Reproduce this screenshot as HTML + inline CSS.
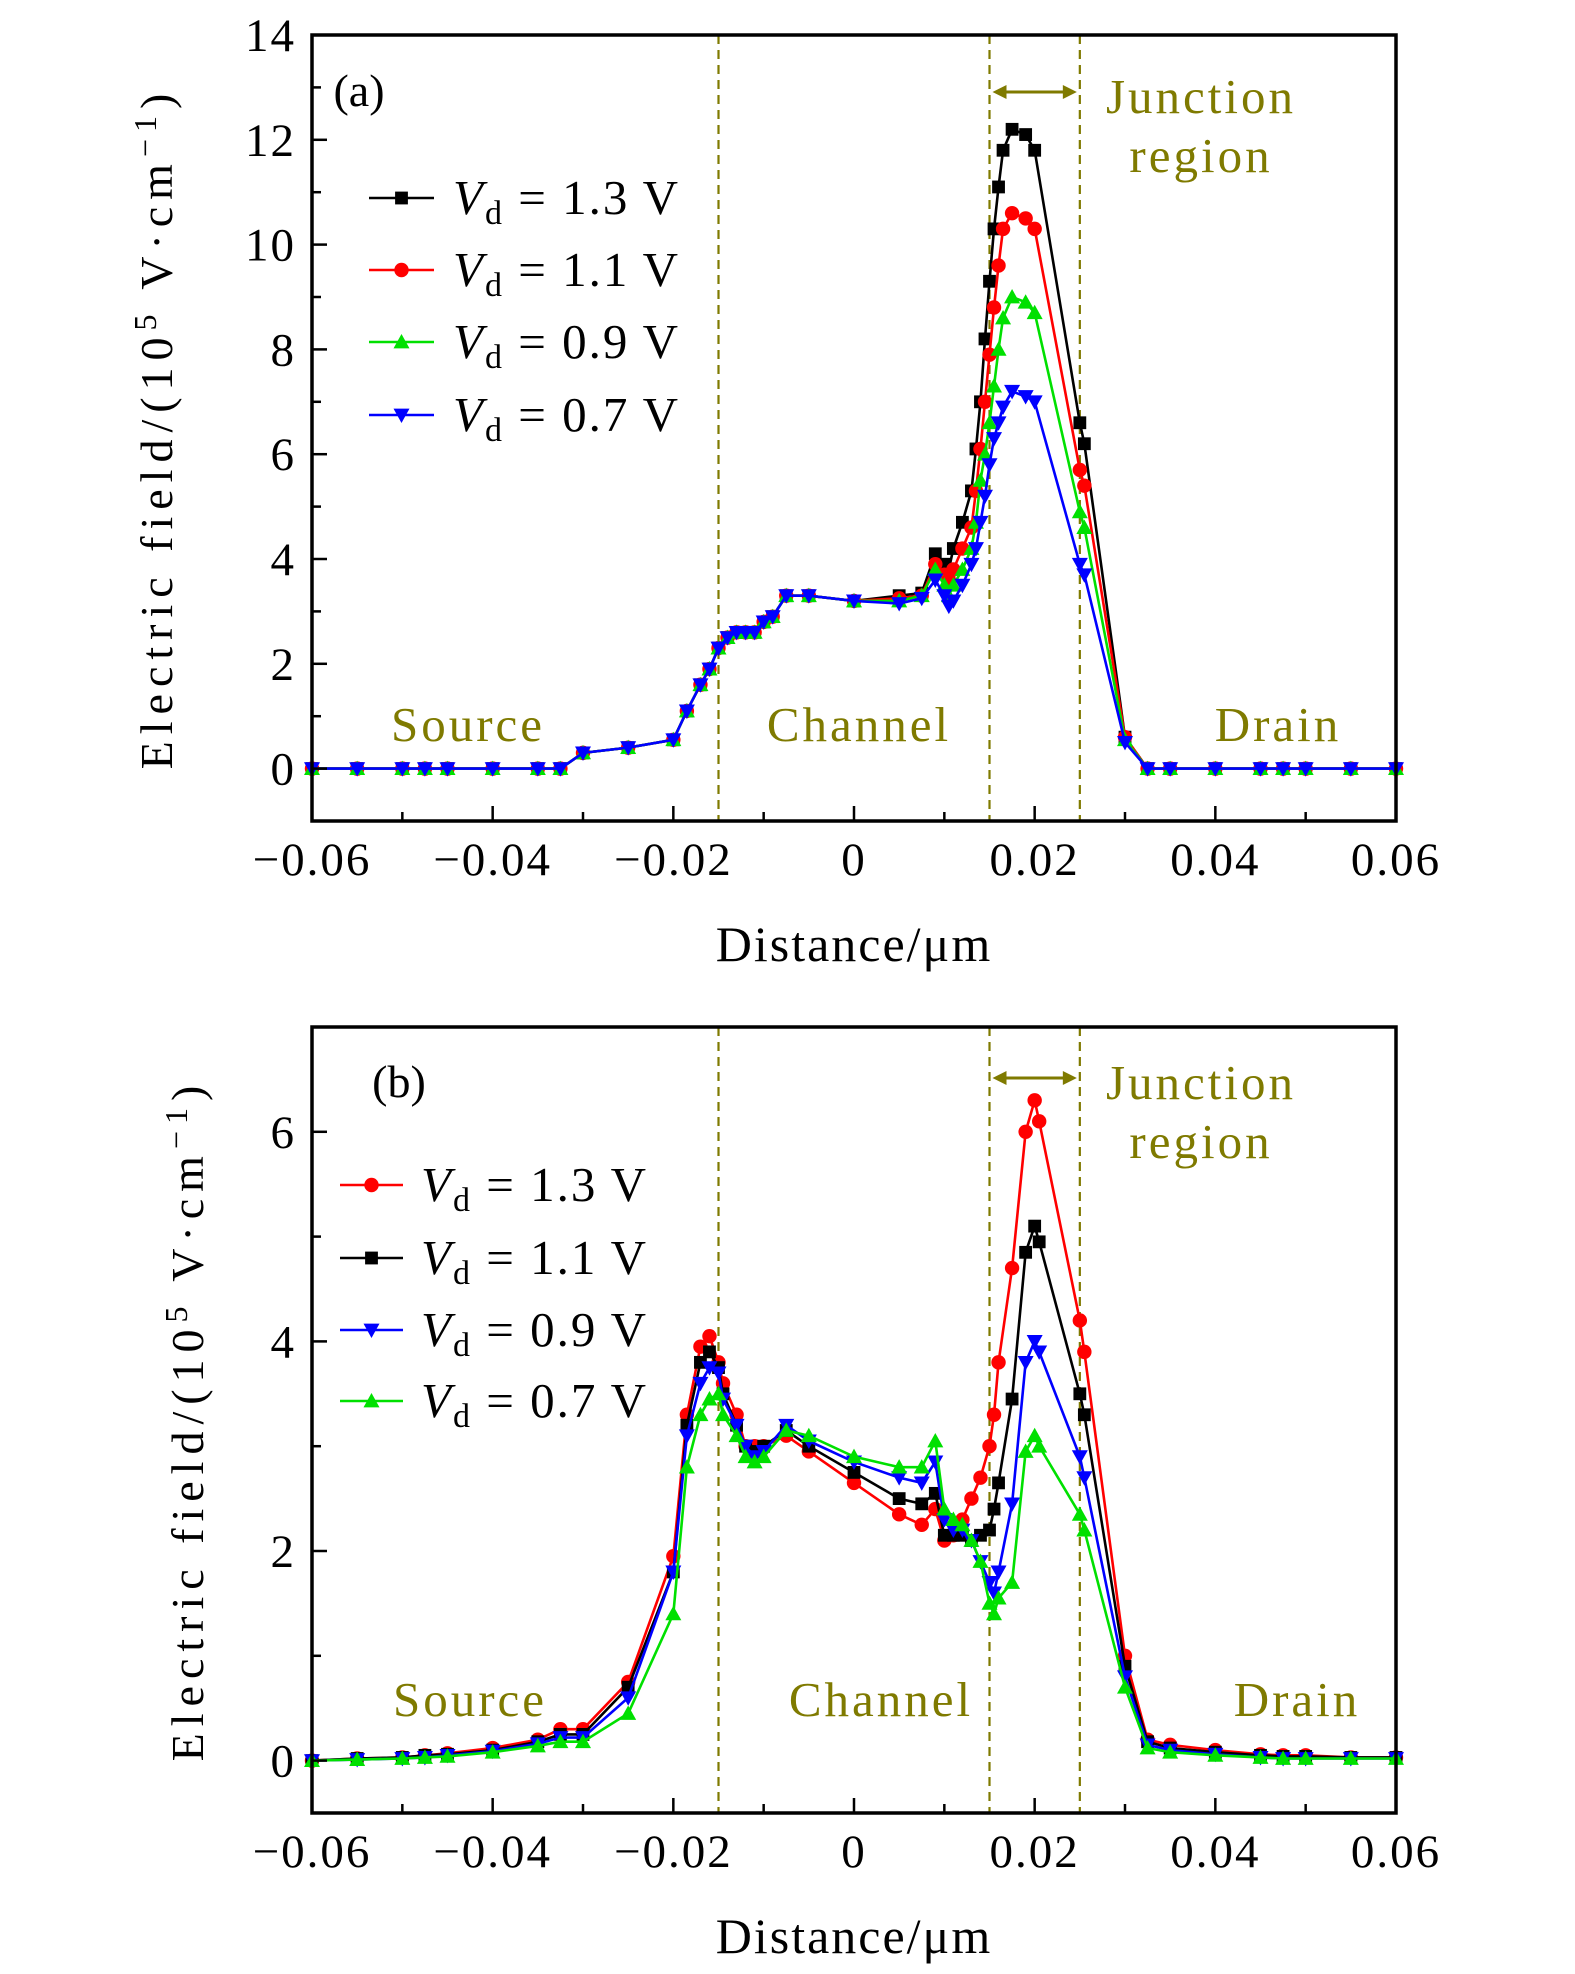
<!DOCTYPE html>
<html><head><meta charset="utf-8"><style>
html,body{margin:0;padding:0;background:#fff;}
svg text{font-family:"Liberation Serif",serif;}
</style></head><body>
<svg id="fig" width="1575" height="1969" viewBox="0 0 1575 1969" xmlns="http://www.w3.org/2000/svg"></svg>
<script>
// ---------- Panel (a) data ----------
const xA = [-0.06,-0.055,-0.05,-0.0475,-0.045,-0.04,-0.035,-0.0325,-0.03,-0.025,-0.02,-0.0185,-0.017,-0.016,-0.015,-0.014,-0.013,-0.012,-0.011,-0.01,-0.009,-0.0075,-0.005,0,0.005,0.0075,0.009,0.01,0.0105,0.011,0.012,0.013,0.0135,0.014,0.0145,0.015,0.0155,0.016,0.0165,0.0175,0.019,0.02,0.025,0.0255,0.03,0.0325,0.035,0.04,0.045,0.0475,0.05,0.055,0.06];
const aV13 = [0,0,0,0,0,0,0,0,0.3,0.4,0.55,1.1,1.6,1.9,2.3,2.5,2.6,2.6,2.6,2.8,2.9,3.3,3.3,3.2,3.3,3.35,4.1,3.9,3.8,4.2,4.7,5.3,6.1,7.0,8.2,9.3,10.3,11.1,11.8,12.2,12.1,11.8,6.6,6.2,0.6,0,0,0,0,0,0,0,0];
const aV11 = [0,0,0,0,0,0,0,0,0.3,0.4,0.55,1.1,1.6,1.9,2.3,2.5,2.6,2.6,2.6,2.8,2.9,3.3,3.3,3.2,3.25,3.3,3.9,3.7,3.6,3.8,4.2,4.6,5.3,6.1,7.0,7.9,8.8,9.6,10.3,10.6,10.5,10.3,5.7,5.4,0.6,0,0,0,0,0,0,0,0];
const aV09 = [0,0,0,0,0,0,0,0,0.3,0.4,0.55,1.1,1.6,1.9,2.3,2.5,2.6,2.6,2.6,2.8,2.9,3.3,3.3,3.2,3.2,3.3,3.8,3.5,3.3,3.5,3.8,4.2,4.7,5.5,6.0,6.6,7.3,8.0,8.6,9.0,8.9,8.7,4.9,4.6,0.55,0,0,0,0,0,0,0,0];
const aV07 = [0,0,0,0,0,0,0,0,0.3,0.4,0.55,1.1,1.6,1.9,2.3,2.5,2.6,2.6,2.6,2.8,2.9,3.3,3.3,3.2,3.15,3.25,3.6,3.3,3.1,3.2,3.5,3.9,4.2,4.7,5.2,5.8,6.3,6.6,6.9,7.2,7.1,7.0,3.9,3.7,0.5,0,0,0,0,0,0,0,0];
const aYTicks = [0,2,4,6,8,10,12,14];
const aLabels = ["1.3","1.1","0.9","0.7"];

// ---------- Panel (b) data ----------
const xB = [-0.06,-0.055,-0.05,-0.0475,-0.045,-0.04,-0.035,-0.0325,-0.03,-0.025,-0.02,-0.0185,-0.017,-0.016,-0.015,-0.0145,-0.013,-0.012,-0.011,-0.01,-0.0075,-0.005,0,0.005,0.0075,0.009,0.01,0.011,0.012,0.013,0.014,0.015,0.0155,0.016,0.0175,0.019,0.02,0.0205,0.025,0.0255,0.03,0.0325,0.035,0.04,0.045,0.0475,0.05,0.055,0.06];
const bV13 = [0,0.02,0.03,0.05,0.07,0.12,0.2,0.3,0.3,0.75,1.95,3.3,3.95,4.05,3.8,3.6,3.3,3.0,3.0,3.0,3.1,2.95,2.65,2.35,2.25,2.4,2.1,2.15,2.3,2.5,2.7,3.0,3.3,3.8,4.7,6.0,6.3,6.1,4.2,3.9,1.0,0.2,0.15,0.1,0.06,0.05,0.05,0.03,0.03];
const bV11 = [0,0.02,0.03,0.05,0.06,0.1,0.18,0.25,0.25,0.7,1.8,3.2,3.8,3.9,3.75,3.5,3.2,3.0,2.95,3.0,3.15,3.0,2.75,2.5,2.45,2.55,2.15,2.15,2.15,2.1,2.15,2.2,2.4,2.65,3.45,4.85,5.1,4.95,3.5,3.3,0.9,0.18,0.12,0.08,0.05,0.04,0.04,0.03,0.03];
const bV09 = [0,0.01,0.02,0.03,0.05,0.09,0.16,0.22,0.22,0.6,1.8,3.1,3.6,3.75,3.7,3.45,3.2,3.0,2.9,2.95,3.2,3.05,2.85,2.7,2.65,2.85,2.3,2.2,2.2,2.1,1.9,1.7,1.6,1.8,2.45,3.8,4.0,3.9,2.9,2.7,0.8,0.15,0.1,0.06,0.03,0.02,0.02,0.02,0.02];
const bV07 = [0,0.01,0.02,0.03,0.04,0.08,0.14,0.18,0.18,0.45,1.4,2.8,3.3,3.45,3.5,3.3,3.1,2.9,2.85,2.9,3.15,3.1,2.9,2.8,2.8,3.05,2.4,2.3,2.25,2.1,1.9,1.5,1.4,1.55,1.7,2.95,3.1,3.0,2.35,2.2,0.7,0.12,0.08,0.05,0.03,0.02,0.02,0.02,0.02];
const bYTicks = [0,2,4,6];
const bLabels = ["1.3","1.1","0.9","0.7"];

const xTicks = [-0.06,-0.04,-0.02,0,0.02,0.04,0.06];
const xTickLabels = ["\u22120.06","\u22120.04","\u22120.02","0","0.02","0.04","0.06"];

const NS="http://www.w3.org/2000/svg";
const svg=document.getElementById('fig');
function mk(tag,attrs,parent,text){const e=document.createElementNS(NS,tag);for(const k in attrs)e.setAttribute(k,attrs[k]);if(text!==undefined)e.textContent=text;(parent||svg).appendChild(e);return e;}
const OLIVE="#7f7a00";

function marker(g,type,cx,cy,color,s){
  let m;
  if(type==='sq') m=mk('rect',{x:cx-s*0.8,y:cy-s*0.8,width:s*1.6,height:s*1.6,fill:color},g);
  else if(type==='ci') m=mk('circle',{cx:cx,cy:cy,r:s*0.9,fill:color},g);
  else if(type==='up') m=mk('polygon',{points:`${cx},${cy-s} ${cx-s},${cy+s*0.8} ${cx+s},${cy+s*0.8}`,fill:color},g);
  else m=mk('polygon',{points:`${cx},${cy+s} ${cx-s},${cy-s*0.8} ${cx+s},${cy-s*0.8}`,fill:color},g);
  return m;
}

function panel(o){
  const L=312,R=1396,T=o.T,B=o.B;
  const sx=v=>L+(v+0.06)/0.12*(R-L);
  const sy=v=>B-(v-o.ymin)/(o.ymax-o.ymin)*(B-T);
  const g=mk('g',{});
  
  
  [-0.015,0.015,0.025].forEach(d=>{
    const l=mk('line',{x1:sx(d),x2:sx(d),y1:T,y2:B,stroke:OLIVE,'stroke-width':2.2,'stroke-dasharray':'9,6'},g);
    
    
  });
  o.series.forEach((s,si)=>{
    const sg=mk('g',{},g);
    
    
    const pts=s.x.map((xv,i)=>sx(xv)+','+sy(s.y[i])).join(' ');
    mk('polyline',{points:pts,fill:'none',stroke:s.color,'stroke-width':2.6},sg);
    s.x.forEach((xv,i)=>{const m=marker(sg,s.m,sx(xv),sy(s.y[i]),s.color,8);
      
      });
  });
  const f=mk('rect',{x:L,y:T,width:R-L,height:B-T,fill:'none',stroke:'#000','stroke-width':3.5},g);
  
  
  for(let v=-0.05;v<0.06;v+=0.01){const X=sx(v);const major=Math.abs(Math.round(v*100))%2===0;
    mk('line',{x1:X,x2:X,y1:B,y2:B-(major?15:9),stroke:'#000','stroke-width':2.5},g);}
  xTicks.forEach((v,i)=>{const t=mk('text',{x:sx(v),y:B+54,'font-size':47,'text-anchor':'middle','letter-spacing':'2'},g,xTickLabels[i]);
    
    });
  for(let v=Math.ceil(o.ymin);v<o.ymax;v+=1){const Y=sy(v);const major=v%2===0;
    mk('line',{x1:L,x2:L+(major?15:9),y1:Y,y2:Y,stroke:'#000','stroke-width':2.5},g);}
  o.yTicks.forEach(v=>{const t=mk('text',{x:296,y:sy(v)+16,'font-size':47,'text-anchor':'end','letter-spacing':'2'},g,String(v));
    
    });
  const xt=mk('text',{x:854,y:B+140,'font-size':50,'text-anchor':'middle','letter-spacing':'2'},g,'Distance/\u03bcm');
  
  
  const yc=(T+B)/2;
  const yt=mk('text',{x:o.ytx,y:yc,'font-size':46,'text-anchor':'middle','letter-spacing':'7',transform:`rotate(-90 ${o.ytx} ${yc})`},g);
  
  
  mk('tspan',{},yt,'Electric field/(10');
  mk('tspan',{dy:-16,'font-size':32},yt,'5');
  mk('tspan',{dy:16},yt,' V\u00b7cm');
  mk('tspan',{dy:-16,'font-size':32},yt,'\u22121');
  mk('tspan',{dy:16},yt,')');
  const pl=mk('text',{x:o.plx,y:o.ply+15,'font-size':46,'text-anchor':'middle'},g,o.pl);
  
  
  const ay=o.ay,ax1=sx(0.015)+3,ax2=sx(0.025)-3;
  const ag=mk('g',{},g);
  
  
  mk('line',{x1:ax1+10,x2:ax2-10,y1:ay,y2:ay,stroke:OLIVE,'stroke-width':3},ag);
  mk('polygon',{points:`${ax1},${ay} ${ax1+14},${ay-7} ${ax1+14},${ay+7}`,fill:OLIVE},ag);
  mk('polygon',{points:`${ax2},${ay} ${ax2-14},${ay-7} ${ax2-14},${ay+7}`,fill:OLIVE},ag);
  o.notes.forEach(n=>{const t=mk('text',{x:n[1],y:n[2]+15,'font-size':49,'text-anchor':'middle',fill:OLIVE,'letter-spacing':'3'},g,n[0]);
    
    });
  const lg=mk('g',{},g);
  
  
  o.series.forEach((s,i)=>{const y=o.legY[i];
    const e=mk('g',{},lg);
    
    
    mk('line',{x1:o.legX1,x2:o.legX2,y1:y,y2:y,stroke:s.color,'stroke-width':2.6},e);
    marker(e,s.m,(o.legX1+o.legX2)/2,y,s.color,8);
    const t=mk('text',{x:o.legTx,y:y+16,'font-size':49,'letter-spacing':'2'},e);
    mk('tspan',{'font-style':'italic'},t,'V');
    mk('tspan',{dy:10,'font-size':34},t,'d');
    mk('tspan',{dy:-10},t,' = '+s.label+' V');
  });
}

panel({name:'panel-a',T:35,B:821,ymin:-1,ymax:14,yTicks:aYTicks,ytx:172,pl:'(a)',plx:359,ply:91,ay:92,
  notes:[['Junction',1201,98],['region',1201,157],['Source',468,726],['Channel',859,726],['Drain',1278,726]],
  legX1:369,legX2:434,legTx:453,legY:[198,270,342,415],
  series:[{x:xA,y:aV07,color:'#0000ff',m:'dn',label:aLabels[3]},{x:xA,y:aV09,color:'#00e000',m:'up',label:aLabels[2]},
          {x:xA,y:aV11,color:'#ff0000',m:'ci',label:aLabels[1]},{x:xA,y:aV13,color:'#000000',m:'sq',label:aLabels[0]}].reverse()
});
panel({name:'panel-b',T:1027,B:1813,ymin:-0.5,ymax:7,yTicks:bYTicks,ytx:203,pl:'(b)',plx:399,ply:1082,ay:1078,
  notes:[['Junction',1201,1084],['region',1201,1143],['Source',470,1701],['Channel',881,1701],['Drain',1297,1701]],
  legX1:340,legX2:403,legTx:421,legY:[1185,1258,1330,1401],
  series:[{x:xB,y:bV13,color:'#ff0000',m:'ci',label:bLabels[0]},{x:xB,y:bV11,color:'#000000',m:'sq',label:bLabels[1]},
          {x:xB,y:bV09,color:'#0000ff',m:'dn',label:bLabels[2]},{x:xB,y:bV07,color:'#00e000',m:'up',label:bLabels[3]}]
});
</script>
</body></html>
